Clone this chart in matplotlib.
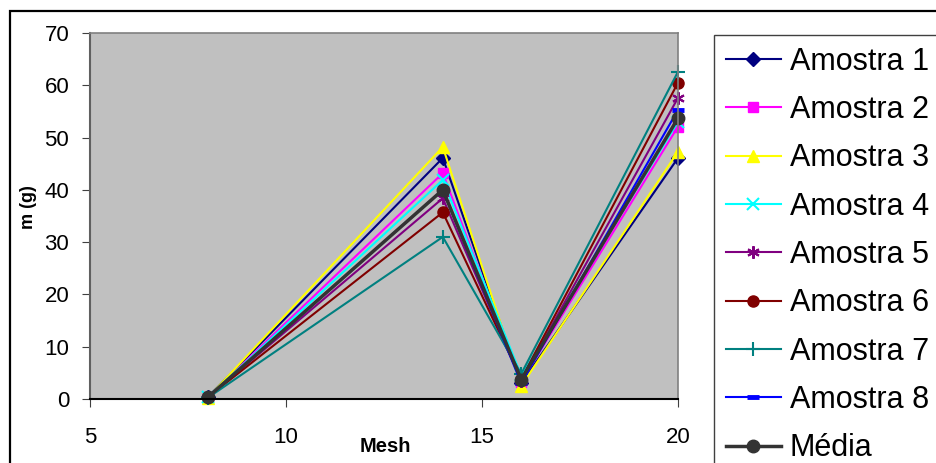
import matplotlib
matplotlib.use("Agg")
import matplotlib.pyplot as plt
from matplotlib.patches import Rectangle

plt.rcParams['font.family'] = ['Liberation Sans', 'DejaVu Sans']

# Sieve openings (Mesh) and retained mass per sample (g)
mesh = [8, 14, 16, 20]
amostra_1 = [0.3, 46.1, 3.0, 46.1]
amostra_2 = [0.3, 43.2, 3.3, 52.1]
amostra_3 = [0.2, 48.2, 2.5, 47.3]
amostra_4 = [0.3, 41.9, 4.5, 53.0]
amostra_5 = [0.3, 38.4, 3.5, 57.6]
amostra_6 = [0.3, 35.7, 3.8, 60.5]
amostra_7 = [0.2, 31.0, 4.8, 62.6]
amostra_8 = [0.3, 40.0, 3.0, 55.3]
media = [0.3, 40.0, 3.7, 53.7]

labels = ["Amostra 1", "Amostra 2", "Amostra 3", "Amostra 4", "Amostra 5",
          "Amostra 6", "Amostra 7", "Amostra 8", "Média"]
series = [amostra_1, amostra_2, amostra_3, amostra_4, amostra_5,
          amostra_6, amostra_7, amostra_8, media]

colors = ["#000080", "#FF00FF", "#FFFF00", "#00FFFF", "#800080",
          "#800000", "#008080", "#0000FF", "#333333"]
markers = ["D", "s", "^", "x", (6, 2, 0), "o", "+", "_", "o"]
msizes = [7, 7, 9, 8, 9, 8, 10, 8, 9]
mews = [1, 1, 1, 1.5, 1.5, 1, 1.5, 3.5, 1]
lws = [1.5, 1.5, 1.5, 1.5, 1.5, 1.5, 1.5, 1.5, 2.5]

fig = plt.figure(figsize=(9.37, 4.63), dpi=100)
W, H = 937, 463

# Outer chart border
fig.patches.append(Rectangle((10 / W, -0.2), 1.5, 1 - 11 / H + 0.2,
                             transform=fig.transFigure, fill=False,
                             edgecolor="black", linewidth=1.6, zorder=0))

ax = fig.add_axes([90 / W, 1 - 399 / H, (678 - 90) / W, (399 - 33) / H])
ax.set_facecolor("#C0C0C0")

handles = []
for y, lab, c, m, ms, mew, lw in zip(series, labels, colors, markers,
                                     msizes, mews, lws):
    h, = ax.plot(mesh, y, color=c, marker=m, markersize=ms,
                 markeredgewidth=mew, markerfacecolor=c, markeredgecolor=c,
                 linewidth=lw, label=lab, clip_on=False)
    handles.append(h)

ax.set_xlim(5, 20)
ax.set_ylim(0, 70)
ax.set_xticks([5, 10, 15, 20])
ax.set_yticks(range(0, 71, 10))
ax.tick_params(axis="both", labelsize=16, length=6, direction="out",
               color="#404040")
ax.tick_params(axis="x", pad=14)
ax.tick_params(axis="y", pad=9)

for s in ("top", "right"):
    ax.spines[s].set_color("#808080")
    ax.spines[s].set_linewidth(1.2)
ax.spines["left"].set_color("#606060")
ax.spines["left"].set_linewidth(1.5)
ax.spines["bottom"].set_color("black")
ax.spines["bottom"].set_linewidth(1.5)

ax.set_ylabel("m (g)", fontsize=13, fontweight="bold")
ax.yaxis.set_label_coords((37 - 90) / (678 - 90), (399 - 207) / (399 - 33))
ax.set_xlabel("Mesh", fontsize=14.5, fontweight="bold")
ax.xaxis.label.set_verticalalignment("center")
ax.xaxis.set_label_coords((385 - 90) / (678 - 90), -(447 - 399) / (399 - 33))

leg = fig.legend(handles=handles, labels=labels, loc="upper left",
                 bbox_to_anchor=(714 / W, 1 - 35 / H), fontsize=22,
                 frameon=True, fancybox=False, edgecolor="#404040",
                 framealpha=1, handlelength=1.8, handletextpad=0.3,
                 labelspacing=0.6, borderpad=0.38, borderaxespad=0)
leg.get_frame().set_linewidth(1.0)

fig.savefig("out.png", dpi=100)
